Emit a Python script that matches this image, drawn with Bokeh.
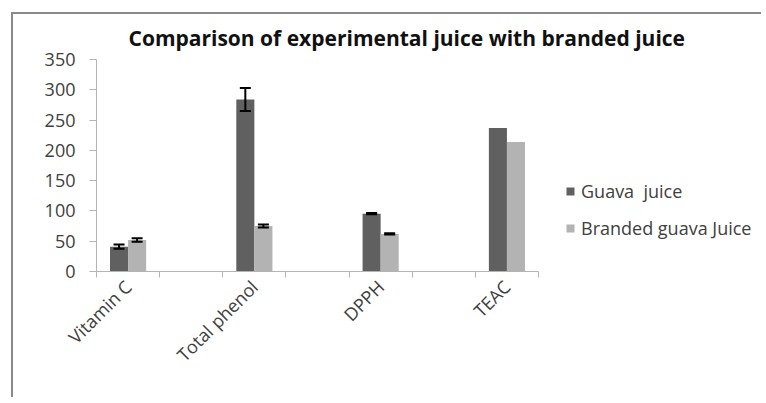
import math
from bokeh.plotting import figure
from bokeh.models import (ColumnDataSource, FixedTicker, Whisker, TeeHead, Legend, LegendItem,
                          Range1d, Title)
from bokeh.embed import file_html
from bokeh.resources import INLINE

categories = ["Vitamin C", "Total phenol", "DPPH", "TEAC"]
guava = [41, 284, 95.5, 237]
guava_err = [3.5, 19, 1, 0]
branded = [52, 75, 62, 214]
branded_err = [3, 2.5, 1, 0]
series_names = ["Guava  juice", "Branded guava Juice"]
y_ticks = [0, 50, 100, 150, 200, 250, 300, 350]

FONT = "Open Sans"
TXT = "#404040"
AXC = "#b4b4b4"
C1 = "#606060"
C2 = "#b3b3b3"

n_slots = 2 * len(categories) - 1
centers = [2 * i + 0.5 for i in range(len(categories))]
off = 0.143
bw = 0.286

W, H = 750, 385
ML, MT, MR, MB = 83, 43, 3, 128
axis_px = 442                      # pixel length of the category axis
frame_px = W - ML - MR
x_end = n_slots * frame_px / axis_px

p = figure(width=W, height=H, output_backend="svg", toolbar_location=None,
           x_range=Range1d(0, x_end), y_range=Range1d(0, 350),
           min_border_left=ML, min_border_top=MT, min_border_right=MR, min_border_bottom=MB)
p.styles = {"border-left": "2px solid #8a8a8a", "border-top": "2px solid #8a8a8a",
            "margin-left": "11px", "margin-top": "12px"}
p.outline_line_color = None
p.xgrid.visible = False
p.ygrid.visible = False
p.background_fill_color = "white"

p.title = Title(text="Comparison of experimental juice with branded juice", align="left", offset=32,
                text_font=FONT, text_font_size="21px", text_font_style="bold", text_color="#111111",
                standoff=15)

src1 = ColumnDataSource(dict(x=[c - off for c in centers], top=guava))
src2 = ColumnDataSource(dict(x=[c + off for c in centers], top=branded))
r1 = p.vbar(x="x", top="top", width=bw, source=src1, fill_color=C1, line_color=None)
r2 = p.vbar(x="x", top="top", width=bw, source=src2, fill_color=C2, line_color=None)

def err_source(xs, vals, errs):
    b, u, l = [], [], []
    for x, v, e in zip(xs, vals, errs):
        if e > 0:
            b.append(x); u.append(v + e); l.append(v - e)
    return ColumnDataSource(dict(base=b, upper=u, lower=l))

for xs, vals, errs in [([c - off for c in centers], guava, guava_err),
                       ([c + off for c in centers], branded, branded_err)]:
    w = Whisker(source=err_source(xs, vals, errs), base="base", upper="upper", lower="lower",
                line_color="black", line_width=2, level="overlay",
                upper_head=TeeHead(size=11, line_color="black", line_width=2),
                lower_head=TeeHead(size=11, line_color="black", line_width=2))
    p.add_layout(w)

# y axis
yax = p.yaxis[0]
yax.ticker = FixedTicker(ticks=y_ticks, minor_ticks=[])
yax.axis_line_color = AXC
yax.major_tick_line_color = AXC
yax.major_tick_out = 7
yax.major_tick_in = 0
yax.minor_tick_line_color = None
yax.major_label_text_font = FONT
yax.major_label_text_font_size = "18px"
yax.major_label_text_color = TXT
yax.major_label_standoff = 14

# x axis
xax = p.xaxis[0]
xax.bounds = (0, n_slots)
xax.ticker = FixedTicker(ticks=centers, minor_ticks=list(range(n_slots + 1)))
xax.major_label_overrides = {c: name for c, name in zip(centers, categories)}
xax.axis_line_color = AXC
xax.major_tick_line_color = None
xax.major_tick_out = 6
xax.major_tick_in = 0
xax.minor_tick_line_color = AXC
xax.minor_tick_out = 6
xax.minor_tick_in = 0
xax.major_label_orientation = math.pi / 4
xax.major_label_text_font = FONT
xax.major_label_text_font_size = "18px"
xax.major_label_text_color = TXT
xax.major_label_standoff = 6

legend = Legend(items=[LegendItem(label=series_names[0], renderers=[r1]),
                       LegendItem(label=series_names[1], renderers=[r2])],
                location=(469, 31), orientation="vertical",
                label_text_font=FONT, label_text_font_size="18px", label_text_color=TXT,
                glyph_width=10, glyph_height=10, label_standoff=6, spacing=13,
                label_height=20, padding=0, margin=0, border_line_color=None,
                background_fill_alpha=0)
p.add_layout(legend, "center")

open("out.html", "w").write(file_html(p, INLINE))
